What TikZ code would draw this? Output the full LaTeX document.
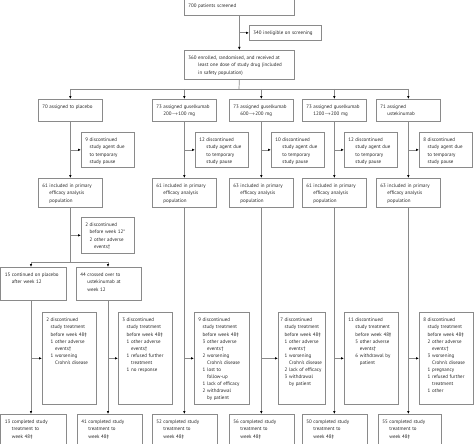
\documentclass[tikz,border=0pt]{standalone}
\usepackage{fontspec}
\setmainfont{PT Sans}
\usetikzlibrary{arrows.meta}
\definecolor{linegray}{HTML}{8A8A8A}
\definecolor{txtgray}{HTML}{262626}
\newcommand{\hg}[1]{\phantom{#1~}}

\begin{document}
\begin{tikzpicture}[x=1pt,y=-1pt,
  font=\fontsize{5}{7.1}\selectfont, text=txtgray,
  box/.style 2 args={draw=linegray, line width=0.7pt, anchor=north west, align=left,
    inner xsep=4pt, inner ysep=3pt, text width=#1, text height=6.5pt, text depth=#2},
  link/.style={draw=linegray, line width=0.7pt},
  arr/.style={link, -{Latex[length=3pt,width=2.6pt,color=black]}}]
  \useasboundingbox (0,0) rectangle (474,444);
  \clip (0,0) rectangle (474,444);

  % Screening
  \node[box={102pt}{4.5pt}] (scr) at (184,-2) {700 patients screened};
  \node[box={64pt}{2.5pt}] (inel) at (249,25) {340 ineligible on screening};
  \node[box={102pt}{16.5pt}] (enr) at (184,50) {360 enrolled, randomised, and received at\\\hg{360}least one dose of study drug (included\\\hg{360}in safety population)};
  \coordinate (rnd) at (239,89);

  % Assigned
  \node[box={56pt}{9.5pt}] (asg1) at (38,99) {70 assigned to placebo};
  \node[box={56pt}{9.5pt}] (asg2) at (152,99) {73 assigned guselkumab\\\hg{73}200$\rightarrow$100 mg};
  \node[box={56pt}{9.5pt}] (asg3) at (229,99) {73 assigned guselkumab\\\hg{73}600$\rightarrow$200 mg};
  \node[box={56pt}{9.5pt}] (asg4) at (302,99) {73 assigned guselkumab\\\hg{73}1200$\rightarrow$200 mg};
  \node[box={56pt}{9.5pt}] (asg5) at (376,99) {71 assigned\\\hg{71}ustekinumab};

  % Study pause
  \node[box={45pt}{22.5pt}] (pau1) at (81,132) {9 discontinued\\\hg{9}study agent due\\\hg{9}to temporary\\\hg{9}study pause};
  \node[box={45pt}{22.5pt}] (pau2) at (195,132) {12 discontinued\\\hg{12}study agent due\\\hg{12}to temporary\\\hg{12}study pause};
  \node[box={45pt}{22.5pt}] (pau3) at (271,132) {10 discontinued\\\hg{10}study agent due\\\hg{10}to temporary\\\hg{10}study pause};
  \node[box={45pt}{22.5pt}] (pau4) at (344,132) {12 discontinued\\\hg{12}study agent due\\\hg{12}to temporary\\\hg{12}study pause};
  \node[box={45pt}{22.5pt}] (pau5) at (419,132) {8 discontinued\\\hg{8}study agent due\\\hg{8}to temporary\\\hg{8}study pause};

  % Primary efficacy population
  \node[box={56pt}{16.5pt}] (inc1) at (38,178) {61 included in primary\\\hg{61}efficacy analysis\\\hg{61}population};
  \node[box={56pt}{16.5pt}] (inc2) at (152,178) {61 included in primary\\\hg{61}efficacy analysis\\\hg{61}population};
  \node[box={56pt}{16.5pt}] (inc3) at (229,178) {63 included in primary\\\hg{63}efficacy analysis\\\hg{63}population};
  \node[box={56pt}{16.5pt}] (inc4) at (302,178) {61 included in primary\\\hg{61}efficacy analysis\\\hg{61}population};
  \node[box={56pt}{16.5pt}] (inc5) at (376,178) {63 included in primary\\\hg{63}efficacy analysis\\\hg{63}population};

  % Placebo at week 12
  \node[box={45pt}{23.5pt}] (wk12) at (81,217) {2 discontinued\\\hg{2}before week 12*\\\hg{2}2 other adverse\\\hg{2}\hg{2}events\textdagger};
  \coordinate (spl) at (31,262);
  \coordinate (spr) at (108,262);
  \node[box={57pt}{20.5pt}] (cont) at (0.5,267) {15 continued on placebo\\\hg{15}after week 12};
  \node[box={57pt}{20.5pt}] (cross) at (76,267) {44 crossed over to\\\hg{44}ustekinumab at\\\hg{44}week 12};

  % Discontinued before week 48
  \node[box={46pt}{79.5pt}] (dis1) at (42,312) {2 discontinued\\\hg{2}study treatment\\\hg{2}before week 48\textdaggerdbl\\\hg{2}1 other adverse\\\hg{2}\hg{1}events\textdagger\\\hg{2}1 worsening\\\hg{2}\hg{1}Crohn's disease};
  \node[box={46pt}{79.5pt}] (dis2) at (118,312) {3 discontinued\\\hg{3}study treatment\\\hg{3}before week 48\textdaggerdbl\\\hg{3}1 other adverse\\\hg{3}\hg{1}events\textdagger\\\hg{3}1 refused further\\\hg{3}\hg{1}treatment\\\hg{3}1 no response};
  \node[box={47pt}{79.5pt}] (dis3) at (194,312) {9 discontinued\\\hg{9}study treatment\\\hg{9}before week 48\textdaggerdbl\\\hg{9}3 other adverse\\\hg{9}\hg{3}events\textdagger\\\hg{9}2 worsening\\\hg{9}\hg{2}Crohn's disease\\\hg{9}1 lost to\\\hg{9}\hg{1}follow-up\\\hg{9}1 lack of efficacy\\\hg{9}2 withdrawal\\\hg{9}\hg{2}by patient};
  \node[box={43pt}{79.5pt}, inner xsep=2pt] (dis4) at (278,312) {7 discontinued\\\hg{7}study treatment\\\hg{7}before week 48\textdaggerdbl\\\hg{7}1 other adverse\\\hg{7}\hg{1}events\textdagger\\\hg{7}1 worsening\\\hg{7}\hg{1}Crohn's disease\\\hg{7}2 lack of efficacy\\\hg{7}3 withdrawal\\\hg{7}\hg{3}by patient};
  \node[box={46pt}{79.5pt}] (dis5) at (344,312) {11 discontinued\\\hg{11}study treatment\\\hg{11}before week 48\textdaggerdbl\\\hg{11}5 other adverse\\\hg{11}\hg{5}events\textdagger\\\hg{11}6 withdrawal by\\\hg{11}\hg{6}patient};
  \node[box={46pt}{79.5pt}] (dis6) at (419,312) {8 discontinued\\\hg{8}study treatment\\\hg{8}before week 48\textdaggerdbl\\\hg{8}2 other adverse\\\hg{8}\hg{2}events\textdagger\\\hg{8}3 worsening\\\hg{8}\hg{3}Crohn's disease\\\hg{8}1 pregnancy\\\hg{8}1 refused further\\\hg{8}\hg{1}treatment\\\hg{8}1 other};

  % Completed to week 48
  \node[box={57pt}{25.5pt}] (done1) at (0.5,414) {13 completed study\\\hg{13}treatment to\\\hg{13}week 48\textdaggerdbl};
  \node[box={57pt}{25.5pt}] (done2) at (77,414) {41 completed study\\\hg{41}treatment to\\\hg{41}week 48\textdaggerdbl};
  \node[box={57pt}{25.5pt}] (done3) at (152,414) {52 completed study\\\hg{52}treatment to\\\hg{52}week 48\textdaggerdbl};
  \node[box={57pt}{25.5pt}] (done4) at (229,414) {56 completed study\\\hg{56}treatment to\\\hg{56}week 48\textdaggerdbl};
  \node[box={57pt}{25.5pt}] (done5) at (302,414) {50 completed study\\\hg{50}treatment to\\\hg{50}week 48\textdaggerdbl};
  \node[box={55pt}{25.5pt}] (done6) at (378,414) {55 completed study\\\hg{55}treatment to\\\hg{55}week 48\textdaggerdbl};

  % Connectors
  \draw[arr] (scr) -- (enr);
  \draw[arr] (scr.south |- inel.west) -- (inel.west);
  \draw[link] (enr.south) -- (rnd);
  \draw[link] (asg1.north |- rnd) -- (asg5.north |- rnd);
  \foreach \i in {1,...,5} {
    \draw[arr] (asg\i.north |- rnd) -- (asg\i.north);
    \draw[arr] (asg\i) -- (inc\i);
    \draw[arr] (asg\i.south |- pau\i.west) -- (pau\i.west);
  }
  \draw[arr] (inc1.south |- wk12.west) -- (wk12.west);
  \draw[link] (inc1.south) -- (inc1.south |- spl);
  \draw[link] (spl) -- (spr);
  \draw[arr] (spl) -- (spl |- cont.north);
  \draw[arr] (spr) -- (spr |- cross.north);
  \draw[arr] (spl |- cont.south) -- (spl |- done1.north);
  \draw[arr] (spl |- dis1.west) -- (dis1.west);
  \draw[arr] (spr |- cross.south) -- (spr |- done2.north);
  \draw[arr] (spr |- dis2.west) -- (dis2.west);
  \foreach \i/\j in {2/3,3/4,4/5,5/6} {
    \draw[arr] (inc\i.south) -- (inc\i.south |- done\j.north);
    \draw[arr] (inc\i.south |- dis\j.west) -- (dis\j.west);
  }
\end{tikzpicture}
\end{document}
